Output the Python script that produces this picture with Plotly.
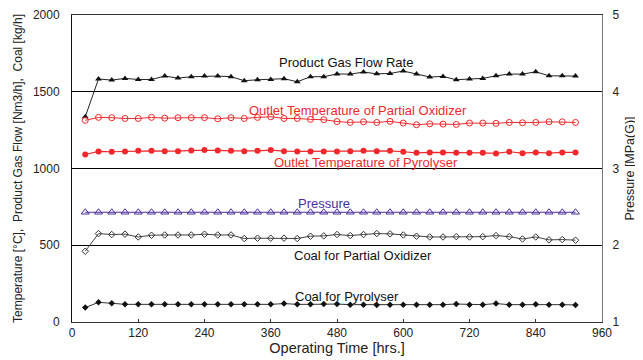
import plotly.graph_objects as go

hours = [24 * i for i in range(1, 39)]

product_gas_flow = [1337, 1583, 1576, 1587, 1580, 1580, 1602, 1589, 1598, 1602,
                    1602, 1598, 1572, 1578, 1580, 1585, 1565, 1598, 1598, 1616,
                    1615, 1628, 1617, 1619, 1635, 1615, 1596, 1600, 1578, 1583,
                    1587, 1604, 1615, 1615, 1630, 1604, 1604, 1602]

outlet_temp_partial_oxidizer = [1314, 1333, 1331, 1326, 1326, 1333, 1328, 1331, 1331, 1331,
                                1324, 1331, 1326, 1333, 1337, 1326, 1326, 1320, 1318, 1306,
                                1300, 1304, 1300, 1307, 1296, 1285, 1291, 1289, 1287, 1296,
                                1296, 1294, 1300, 1298, 1300, 1304, 1304, 1300]

outlet_temp_pyrolyser = [1091, 1111, 1109, 1111, 1115, 1115, 1113, 1113, 1118, 1120,
                         1118, 1115, 1113, 1115, 1120, 1113, 1111, 1111, 1111, 1111,
                         1113, 1115, 1113, 1115, 1109, 1102, 1105, 1105, 1102, 1102,
                         1102, 1098, 1109, 1100, 1105, 1100, 1105, 1105]

pressure = [2.43] * 38

coal_partial_oxidizer = [461, 576, 570, 572, 554, 565, 567, 567, 567, 572,
                         567, 567, 544, 546, 546, 546, 544, 559, 561, 570,
                         563, 570, 576, 574, 567, 559, 554, 554, 556, 554,
                         556, 563, 556, 541, 554, 535, 537, 533]

coal_pyrolyser = [94, 128, 122, 115, 115, 115, 115, 115, 115, 115,
                  115, 115, 115, 115, 115, 120, 115, 115, 117, 117,
                  113, 113, 111, 113, 113, 113, 113, 113, 117, 113,
                  113, 120, 113, 113, 115, 113, 113, 111]

FONT = "Liberation Sans, Arial, sans-serif"
RED = "#f0282d"
PURPLE = "#4a2d9c"

fig = go.Figure()

fig.add_trace(go.Scatter(x=hours, y=product_gas_flow, mode="lines+markers",
                         line=dict(color="#222222", width=1),
                         marker=dict(symbol="triangle-up", size=6, color="#111111")))
fig.add_trace(go.Scatter(x=hours, y=outlet_temp_partial_oxidizer, mode="lines+markers",
                         line=dict(color=RED, width=1),
                         marker=dict(symbol="circle-open", size=6, color=RED, line=dict(width=1))))
fig.add_trace(go.Scatter(x=hours, y=outlet_temp_pyrolyser, mode="lines+markers",
                         line=dict(color=RED, width=1.2),
                         marker=dict(symbol="circle", size=6, color=RED)))
fig.add_trace(go.Scatter(x=hours, y=coal_partial_oxidizer, mode="lines+markers",
                         line=dict(color="#444444", width=1),
                         marker=dict(symbol="diamond-open", size=5, color="#333333", line=dict(width=1))))
fig.add_trace(go.Scatter(x=hours, y=coal_pyrolyser, mode="lines+markers",
                         line=dict(color="#333333", width=1),
                         marker=dict(symbol="diamond", size=5, color="#111111")))
fig.add_trace(go.Scatter(x=hours, y=pressure, mode="lines+markers", yaxis="y2",
                         line=dict(color=PURPLE, width=1),
                         marker=dict(symbol="triangle-up-open", size=7, color=PURPLE, line=dict(width=1))))

annotations = [
    dict(x=497, y=1693, text="Product Gas Flow Rate", color="#111111"),
    dict(x=518, y=1381, text="Outlet Temperature of Partial Oxidizer", color=RED),
    dict(x=533, y=1042, text="Outlet Temperature of Pyrolyser", color=RED),
    dict(x=457, y=774, text="Pressure", color=PURPLE),
    dict(x=527, y=435, text="Coal for Partial Oxidizer", color="#111111"),
    dict(x=498, y=167, text="Coal for Pyrolyser", color="#111111"),
]

# the page body has an 8px default margin, so the figure is sized/offset to compensate
fig.update_layout(
    width=635, height=352,
    margin=dict(l=64, r=41, t=7, b=38),
    paper_bgcolor="white", plot_bgcolor="white",
    showlegend=False,
    font=dict(family=FONT, size=12, color="#222222"),
    xaxis=dict(range=[0, 960], tick0=0, dtick=120, showgrid=False, zeroline=False,
               showline=True, linecolor="#333333", linewidth=1, mirror=True,
               ticks="inside", ticklen=3, tickcolor="#333333", automargin=False,
               title=dict(text="Operating Time [hrs.]", standoff=0, font=dict(size=14.5))),
    yaxis=dict(range=[0, 2000], tick0=0, dtick=500, showgrid=True, gridcolor="#000000",
               gridwidth=1, zeroline=False, showline=True, linecolor="#111111", linewidth=1,
               ticks="", ticklabelstandoff=9, automargin=False,
               title=dict(text="Temperature [°C],  Product Gas Flow [Nm3/h],  Coal [kg/h]",
                          standoff=7, font=dict(size=12))),
    yaxis2=dict(range=[1, 5], tick0=1, dtick=1, overlaying="y", side="right",
                showgrid=False, zeroline=False, showline=True, linecolor="#777777",
                linewidth=1, ticks="", ticklabelstandoff=7, automargin=False,
                title=dict(text="Pressure [MPa(G)]", standoff=6, font=dict(size=12.5))),
    annotations=[dict(x=a["x"], y=a["y"], text=a["text"], xref="x", yref="y",
                      showarrow=False, font=dict(size=13, color=a["color"], family=FONT))
                 for a in annotations],
)

fig.write_html("out.html")
